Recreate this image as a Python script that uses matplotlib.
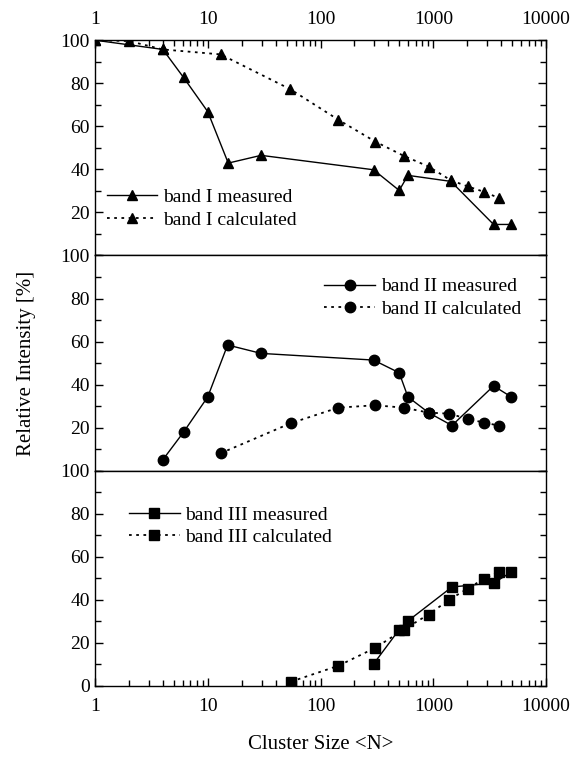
import matplotlib
matplotlib.use("Agg")
import matplotlib.pyplot as plt
from matplotlib.ticker import LogLocator, MultipleLocator, NullFormatter

plt.rcParams['font.family'] = ['Liberation Serif', 'DejaVu Serif']

# band I
n1_meas = [1, 4, 6.1, 10, 15.2, 29.7, 295, 498, 595, 1432, 3420, 4900]
v1_meas = [100, 95.7, 82.7, 66.8, 42.9, 46.5, 39.8, 30.2, 37.2, 34.4, 14.4, 14.4]
n1_calc = [1, 2, 4, 13, 54, 144, 305, 545, 906, 1432, 2010, 2830, 3800]
v1_calc = [100, 99.6, 95.7, 93.4, 77.2, 63, 52.9, 46.3, 41.3, 34.9, 32.1, 29.5, 26.7]

# band II
n2_meas = [4, 6.1, 10, 15, 29.7, 295, 498, 595, 906, 1462, 3420, 4900]
v2_meas = [5.1, 17.9, 34.3, 58.4, 54.5, 51.4, 45.5, 34.3, 27, 21, 39.4, 34.3]
n2_calc = [13, 54.6, 144, 305, 545, 906, 1384, 2010, 2830, 3800]
v2_calc = [8.1, 22.1, 29.3, 30.4, 29.3, 27, 26.5, 24.1, 22.3, 21]

# band III
n3_meas = [295, 498, 595, 1462, 3420, 4900]
v3_meas = [10.2, 26.2, 30.2, 46, 47.8, 52.9]
n3_calc = [54.6, 144, 305, 545, 906, 1384, 2010, 2830, 3800]
v3_calc = [2, 9.4, 17.7, 26.2, 33.2, 40.1, 45.2, 49.9, 52.9]

fig, axs = plt.subplots(3, 1, figsize=(5.86, 7.58), dpi=100, sharex=True)
fig.subplots_adjust(left=0.162, right=0.932, top=0.947, bottom=0.095, hspace=0)

dots = (0, (1.5, 2.5))
panels = [
    (n1_meas, v1_meas, n1_calc, v1_calc, '^', 'band I', 'lower left', (0.0, 0.07)),
    (n2_meas, v2_meas, n2_calc, v2_calc, 'o', 'band II', 'upper right', (0.97, 0.95)),
    (n3_meas, v3_meas, n3_calc, v3_calc, 's', 'band III', 'upper left', (0.05, 0.89)),
]
for i, (ax, (nm, vm, nc, vc, mk, name, loc, anchor)) in enumerate(zip(axs, panels)):
    ax.plot(nm, vm, color='black', lw=1.0, marker=mk, ms=7.5, label=name + ' measured')
    ax.plot(nc, vc, color='black', lw=1.3, ls=dots, marker=mk, ms=7.5, label=name + ' calculated')
    ax.set_xscale('log')
    ax.set_xlim(1, 10000)
    ax.set_ylim(0, 100)
    ax.yaxis.set_major_locator(MultipleLocator(20))
    ax.yaxis.set_minor_locator(MultipleLocator(10))
    ax.xaxis.set_major_locator(LogLocator(base=10))
    ax.xaxis.set_minor_locator(LogLocator(base=10, subs=range(2, 10)))
    ax.xaxis.set_minor_formatter(NullFormatter())
    ax.tick_params(which='both', direction='in', right=True, labelsize=14,
                   top=(i == 0), bottom=(i == 2), labeltop=(i == 0), labelbottom=(i == 2))
    ax.tick_params(which='major', length=6, width=1)
    ax.tick_params(which='minor', length=4, width=1)
    ax.tick_params(axis='x', which='major', pad=9)
    ax.set_xticks([1, 10, 100, 1000, 10000], ['1', '10', '100', '1000', '10000'])
    if i == 0:
        ax.set_yticks([20, 40, 60, 80, 100], ['20', '40', '60', '80', '100'])
    elif i == 1:
        ax.set_yticks([20, 40, 60, 80, 100], ['20', '40', '60', '80', '100'])
    else:
        ax.set_yticks([0, 20, 40, 60, 80, 100], ['0', '20', '40', '60', '80', '100'])
    for s in ax.spines.values():
        s.set_linewidth(1.0)
    ax.legend(loc=loc, bbox_to_anchor=anchor, frameon=False, fontsize=14,
              handlelength=2.6, handletextpad=0.3, labelspacing=0.25, borderaxespad=0.2)

axs[2].set_xlabel('Cluster Size <N>', fontsize=15, labelpad=14)
fig.text(0.045, 0.52, 'Relative Intensity [%]', rotation=90, fontsize=15,
         va='center', ha='center')

fig.savefig('out.png')
